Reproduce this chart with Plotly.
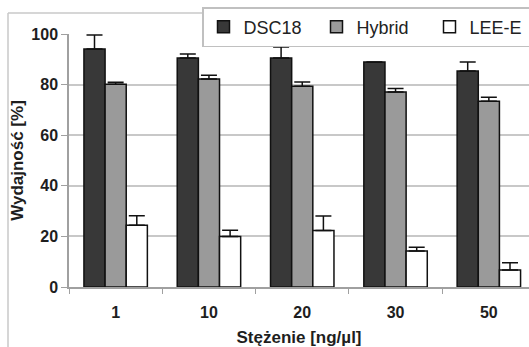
import plotly.graph_objects as go

categories = ["1", "10", "20", "30", "50"]
dsc18 = [94.1, 90.5, 90.5, 88.9, 85.4]
dsc18_err = [5.5, 1.6, 4.4, 0, 3.5]
hybrid = [80.1, 82.2, 79.3, 77.1, 73.4]
hybrid_err = [0.8, 1.5, 1.7, 1.4, 1.6]
leee = [24.4, 20.0, 22.3, 14.2, 6.7]
leee_err = [3.8, 2.4, 5.8, 1.5, 2.9]
y_ticks = [0, 20, 40, 60, 80, 100]

FONT = "Liberation Sans, Arial, sans-serif"
W, H = 529, 347
L, R, T, B = 69, 0, 34, 60

def err(vals):
    return dict(type="data", array=vals, arrayminus=[0] * len(vals), symmetric=False,
                color="#111111", thickness=1.5, width=8)

fig = go.Figure()
for name, vals, e, col in [("DSC18", dsc18, dsc18_err, "#383838"),
                           ("Hybrid", hybrid, hybrid_err, "#9a9a9a"),
                           ("LEE-E", leee, leee_err, "#ffffff")]:
    fig.add_trace(go.Bar(name=name, x=categories, y=vals, error_y=err(e),
                         marker=dict(color=col, line=dict(color="#111111", width=1.5))))

pw = W - L - R
ph = H - T - B
cat_px = 93.3

def px_x(x):
    return (x - L) / pw

def px_y(y):
    return (H - B - y) / ph

# outer frame lines (top and left)
fig.add_shape(type="line", xref="paper", yref="paper", x0=px_x(8), x1=px_x(202), y0=px_y(13), y1=px_y(13),
              line=dict(color="#c8c8c8", width=1.5))
fig.add_shape(type="line", xref="paper", yref="paper", x0=px_x(8), x1=px_x(8), y0=px_y(13), y1=px_y(H + 5),
              line=dict(color="#c8c8c8", width=1.5))

fig.update_layout(
    width=W, height=H,
    margin=dict(l=L, r=R, t=T, b=B, autoexpand=False),
    paper_bgcolor="white", plot_bgcolor="white",
    barmode="group", bargap=0.32, bargroupgap=0,
    font=dict(family=FONT, color="#1e1e1e"),
    showlegend=True,
    legend=dict(orientation="h", x=px_x(202), y=px_y(7), xanchor="left", yanchor="top",
                bgcolor="white", bordercolor="#c0c0c0", borderwidth=1.5,
                font=dict(size=18, family=FONT, color="#222222"),
                entrywidth=68, entrywidthmode="pixels", tracegroupgap=0),
    xaxis=dict(type="category", range=[-0.5, -0.5 + pw / cat_px], automargin=False,
               showline=True, linecolor="#a0a0a0", linewidth=1.5,
               ticks="outside", tickson="boundaries", ticklen=5, tickcolor="#a0a0a0",
               ticklabelstandoff=10,
               tickfont=dict(size=16, family=FONT, color="#1e1e1e", weight="bold"),
               title=dict(text="Stężenie [ng/µl]", standoff=14,
                          font=dict(size=17, family=FONT, color="#1e1e1e", weight="bold")),
               showgrid=False),
    yaxis=dict(range=[0, 100], tickvals=y_ticks, showgrid=True, gridcolor="#c8c8c8", gridwidth=1.5,
               automargin=False,
               showline=True, linecolor="#a0a0a0", linewidth=1.5,
               ticks="outside", ticklen=6, tickcolor="#a0a0a0",
               tickfont=dict(size=16, family=FONT, color="#1e1e1e", weight="bold"),
               title=dict(text="Wydajność [%]", standoff=3,
                          font=dict(size=17, family=FONT, color="#1e1e1e", weight="bold")),
               zeroline=False),
)

fig.write_html("out.html", config={"displayModeBar": False},
               post_script="document.body.style.margin='0';")
